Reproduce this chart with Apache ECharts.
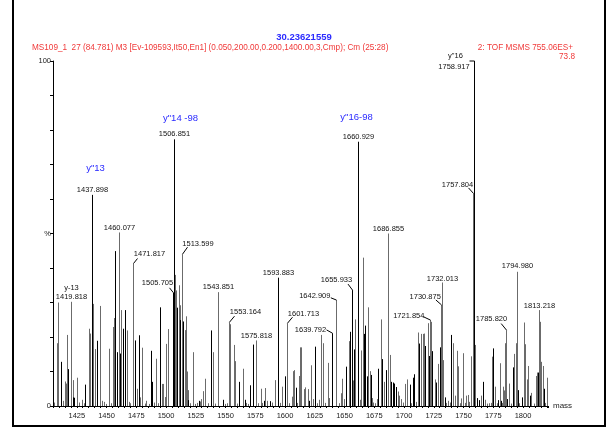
<!DOCTYPE html>
<html><head><meta charset="utf-8">
<script src="https://cdn.jsdelivr.net/npm/echarts@6/dist/echarts.min.js"></script>
<style>html,body{margin:0;padding:0;background:#fff}#c{width:608px;height:428px}</style>
</head><body><div id="c"></div>
<script>
// ---- data ----
const blackMass = [1411.6,1417.9,1422.0,1423.0,1432.2,1437.898,1442.0,1457.5,1458.5,1461.0,1463.8,1465.3,1474.0,1477.6,1487.7,1488.5,1495.3,1505.705,1506.851,1509.2,1512.0,1514.5,1518.3,1527.7,1537.9,1547.7,1561.6,1566.2,1570.9,1573.4,1582.4,1587.7,1593.883,1594.5,1599.8,1609.0,1620.5,1625.5,1639.792,1651.6,1654.6,1655.933,1657.8,1660.929,1661.7,1666.5,1667.5,1668.7,1672.3,1677.9,1681.8,1685.2,1689.1,1690.5,1691.9,1693.1,1704.8,1707.3,1708.7,1712.9,1717.9,1720.8,1723.3,1726.9,1730.0,1734.5,1739.8,1758.917,1761.6,1762.8,1766.1,1775.1,1779.3,1781.8,1786.8,1791.4,1795.8,1799.2,1805.7,1812.6,1817.7];
const blackInt  = [12.8,10.7,2.5,2.4,6.2,61.2,18.9,44.9,15.6,15.2,22.4,27.8,19.0,20.5,16.0,7.0,28.6,32.8,77.3,28.5,24.9,24.5,1.7,1.5,21.9,1.8,7.0,1.8,6.0,17.8,1.5,1.4,37.2,20.9,8.6,5.3,1.5,17.2,21.1,11.4,21.5,33.6,16.4,76.6,17.0,20.9,23.3,8.6,9.0,10.8,13.6,10.4,7.0,6.8,6.5,5.5,6.2,8.2,9.2,18.1,17.4,14.5,15.9,6.8,17.0,2.5,20.6,100,2.3,1.7,7.0,16.7,1.7,1.5,2.0,11.2,4.6,2.5,3.0,9.7,5.0];
const grayMass = [1406.0,1408.2,1409.3,1413.0,1414.9,1416.0,1417.1,1419.818,1420.5,1421.6,1425.0,1427.0,1429.2,1431.0,1435.3,1436.4,1438.8,1440.1,1444.6,1446.3,1447.8,1449.5,1452.2,1453.5,1455.5,1456.4,1460.077,1462.5,1467.0,1468.7,1469.5,1471.817,1475.4,1478.5,1479.5,1480.1,1482.0,1483.2,1485.5,1489.5,1491.6,1493.5,1496.7,1497.8,1499.2,1500.3,1501.5,1507.3,1508.7,1510.7,1511.8,1513.599,1516.0,1517.1,1518.0,1518.8,1520.5,1522.7,1524.5,1526.0,1528.4,1529.7,1530.9,1533.0,1535.5,1539.2,1541.0,1543.851,1549.5,1551.0,1553.164,1554.1,1557.2,1558.3,1560.0,1564.5,1567.5,1569.0,1575.818,1577.5,1579.6,1581.0,1583.0,1585.2,1589.0,1591.4,1595.8,1597.5,1601.713,1603.5,1605.7,1606.8,1607.9,1610.0,1611.6,1612.7,1613.7,1615.8,1617.1,1619.4,1622.1,1623.6,1627.0,1628.9,1630.3,1631.7,1633.5,1635.9,1637.3,1642.909,1645.0,1647.1,1647.9,1649.4,1653.6,1656.9,1659.1,1662.8,1663.9,1665.3,1669.8,1671.2,1673.4,1674.2,1676.0,1677.4,1680.7,1683.5,1686.855,1687.8,1694.7,1696.1,1697.8,1699.5,1701.1,1702.3,1705.8,1710.0,1711.8,1714.6,1715.8,1716.9,1720.0,1721.854,1722.5,1725.8,1728.9,1730.875,1732.013,1732.8,1735.5,1737.0,1738.5,1741.0,1742.6,1744.3,1745.5,1747.0,1748.2,1749.6,1751.0,1752.1,1753.6,1755.0,1756.3,1757.804,1759.7,1764.8,1768.1,1770.0,1771.5,1773.0,1774.0,1776.8,1777.8,1780.5,1782.5,1783.0,1784.1,1784.9,1785.820,1788.5,1790.0,1792.5,1793.9,1794.980,1797.0,1800.9,1802.0,1803.2,1804.5,1806.0,1807.0,1809.0,1811.0,1812.1,1813.218,1814.6,1815.4,1816.6,1818.8,1820.0];
const grayInt  = [1.0,18.2,30.0,1.5,7.1,6.5,20.6,30.2,8.2,7.5,8.2,1.0,1.8,0.8,22.4,21.0,29.6,16.5,29.0,1.5,1.2,0.6,16.6,0.8,22.9,25.5,50.3,27.8,21.9,1.2,0.8,41.3,5.0,2.5,0.9,16.9,0.7,1.5,0.6,1.0,13.7,0.8,6.4,6.4,2.6,18.0,22.3,38.0,33.5,35.0,29.2,44.0,22.0,26.0,10.0,4.6,0.8,15.6,0.6,0.9,1.3,2.0,4.3,7.9,0.8,15.6,0.7,33.0,0.6,0.8,24.3,23.7,17.7,13.0,0.7,10.8,0.9,0.6,19.0,0.8,5.0,0.9,5.2,1.5,1.0,7.5,0.9,5.6,24.0,0.8,2.7,10.1,10.4,0.9,8.7,17.0,17.0,4.9,5.4,4.9,11.8,2.0,0.8,1.8,20.6,18.2,0.9,12.5,2.3,30.7,0.8,3.7,7.9,2.0,18.8,7.4,25.1,1.8,16.1,43.0,28.6,10.1,2.3,1.0,0.8,2.0,25.1,7.0,50.0,14.8,4.2,3.0,2.0,1.0,6.4,7.7,0.8,1.2,21.3,20.9,20.9,21.0,24.0,24.9,24.4,7.7,12.2,29.3,35.8,13.3,0.9,1.5,1.0,18.2,3.0,16.0,11.5,0.8,2.2,15.3,0.9,3.0,3.2,1.2,14.4,61.6,17.7,3.0,1.8,0.7,0.8,0.9,14.3,5.6,0.8,12.4,0.9,5.6,4.5,18.2,22.0,6.5,0.7,15.1,18.2,38.9,0.8,24.2,17.9,7.7,11.6,0.8,3.8,0.7,8.7,9.7,27.8,24.4,12.8,11.6,0.9,8.2];
// labelled peaks
const labelMass = [1419.818,1437.898,1460.077,1471.817,1505.705,1506.851,1513.599,1543.851,1553.164,1575.818,1593.883,1601.713,1639.792,1642.909,1655.933,1660.929,1686.855,1721.854,1730.875,1732.013,1757.804,1758.917,1785.820,1794.980,1813.218];
const labelInt  = [30.2,61.2,50.3,41.3,32.8,77.3,44.0,33.0,24.3,19.0,37.2,24.0,21.1,30.7,33.6,76.6,50.0,24.9,29.3,35.8,61.6,100,22.0,38.9,27.8];
// ion annotations
const annotText = ['y-13','y"13','y"14 -98','y"16-98','y"16'];
const annotMass = [1419.818,1437.898,1506.851,1660.929,1758.917];
const annotInt  = [30.2,61.2,77.3,76.6,100];
const titleText = '30.23621559';
const subText = 'MS109_1  27 (84.781) M3 [Ev-109593,It50,En1] (0.050,200.00,0.200,1400.00,3,Cmp); Cm (25:28)';
const scanText = '2: TOF MSMS 755.06ES+';
const scaleText = '73.8';
const xName = 'mass';

// ---- styles (offsets in px relative to peak top) ----
const labelStyle = [
 [0,-4.5],[0,-4.5],[0,-4.8],[16,-9.5,4,-5],[-16,-9.5,-4,-5],[0,-5],[15.5,-10.5,5,-7],[0,-5],[16,-10,5,-6],[0,-4.5],[0,-4.5],[16,-9,5,-6],
 [-22,-3.3,-6,-3.3],[-21.7,-4,-5.7,-2.3],[-16,-10,-4.5,-6],[0,-4.5],[0,-4.3],[-21.7,-4,-7,-3.3],[-16.3,-8.3,-5.7,-5],[0,-4],[-16,-9,-5,-5.6],[-20.5,6,-5,0],[-15,-11,-5.3,-6.5],[0,-5.5],[0,-4]
];
const annotStyle = [
 {dx:0,dy:-13.4,c:'#111',s:7.5},{dx:3,dy:-26,c:'#2a2aff',s:9.5},{dx:6,dy:-21,c:'#2a2aff',s:9.5},{dx:-2,dy:-24,c:'#2a2aff',s:9.5},{dx:-19,dy:-5,c:'#111',s:7.5}
];
const FONT = '"Liberation Sans", Arial, sans-serif';

function peakRender(color){
  return function(params, api){
    const x = api.value(0), y = api.value(1);
    const p0 = api.coord([x,0]), p1 = api.coord([x,y]);
    const px = Math.round(p0[0]) + 0.5;
    return {type:'line', shape:{x1:px,y1:p0[1],x2:px,y2:p1[1]}, style:{stroke:color,lineWidth:1}, silent:true};
  };
}
function labelRender(params, api){
  const i = params.dataIndex;
  const p = api.coord([api.value(0), api.value(1)]);
  const px = Math.round(p[0]) + 0.5;
  const st = labelStyle[i];
  const ch = [{type:'text', x:px+st[0], y:p[1]+st[1], style:{text:labelMass[i].toFixed(3), fill:'#111', font:'7.5px '+FONT, align:'center', verticalAlign:'middle'}}];
  if (st.length > 2) ch.push({type:'line', shape:{x1:px,y1:p[1],x2:px+st[2],y2:p[1]+st[3]}, style:{stroke:'#000',lineWidth:1}});
  return {type:'group', children:ch, silent:true};
}
function annotRender(params, api){
  const i = params.dataIndex;
  const p = api.coord([api.value(0), api.value(1)]);
  const st = annotStyle[i];
  return {type:'text', x:Math.round(p[0])+0.5+st.dx, y:p[1]+st.dy, silent:true,
    style:{text:annotText[i], fill:st.c, font:st.s+'px '+FONT, align:'center', verticalAlign:'middle'}};
}

const chart = echarts.init(document.getElementById('c'), null, {renderer:'canvas'});
chart.setOption({
  animation:false,
  backgroundColor:'#fff',
  title:[
    {text:titleText, left:'center', top:32, padding:0, textStyle:{color:'#2a2aff', fontSize:9.5, fontWeight:'bold', fontFamily:FONT}},
    {text:subText, left:32, top:44, padding:0, textStyle:{color:'#f03838', fontSize:8.2, fontWeight:'normal', fontFamily:FONT}},
    {text:scanText, right:35, top:44, padding:0, textStyle:{color:'#f03838', fontSize:8.2, fontWeight:'normal', fontFamily:FONT}},
    {text:scaleText, right:33, top:53, padding:0, textStyle:{color:'#f03838', fontSize:8.2, fontWeight:'normal', fontFamily:FONT}}
  ],
  grid:{left:53, width:495, top:61, bottom:22},
  xAxis:{type:'value', min:1405, max:1821, interval:5,
    name:xName, nameLocation:'end', nameGap:5, nameTextStyle:{color:'#222', fontSize:8, fontFamily:FONT, verticalAlign:'middle'},
    axisLine:{lineStyle:{color:'#000',width:1}},
    axisTick:{length:2, lineStyle:{color:'#000'}},
    splitLine:{show:false},
    axisLabel:{color:'#222', fontSize:7.5, fontFamily:FONT, margin:6, showMinLabel:true, showMaxLabel:true,
      formatter:function(v){ return Math.abs(v/25 - Math.round(v/25)) < 1e-6 ? String(Math.round(v)) : ''; }}
  },
  yAxis:{type:'value', min:0, max:100, interval:10,
    axisLine:{show:true, lineStyle:{color:'#000',width:1}},
    axisTick:{show:true, length:3, lineStyle:{color:'#000'}},
    splitLine:{show:false},
    axisLabel:{color:'#222', fontSize:7.5, fontFamily:FONT, margin:2,
      formatter:function(v){ return v===0?'0':(v===50?'%':(v===100?'100':'')); }}
  },
  graphic:[
    {type:'polyline', shape:{points:[[13,0],[13,426],[605,426],[605,0]]}, style:{stroke:'#000', lineWidth:2, fill:null}, silent:true}
  ],
  series:[
    {type:'custom', renderItem:peakRender('#6b6b6b'), data:grayMass.map((m,i)=>[m,grayInt[i]]), clip:true, encode:{x:0,y:1}},
    {type:'custom', renderItem:peakRender('#000000'), data:blackMass.map((m,i)=>[m,blackInt[i]]), clip:true, encode:{x:0,y:1}},
    {type:'custom', renderItem:labelRender, data:labelMass.map((m,i)=>[m,labelInt[i]]), clip:false, encode:{x:0,y:1}, z:5},
    {type:'custom', renderItem:annotRender, data:annotMass.map((m,i)=>[m,annotInt[i]]), clip:false, encode:{x:0,y:1}, z:5}
  ]
});
</script></body></html>
